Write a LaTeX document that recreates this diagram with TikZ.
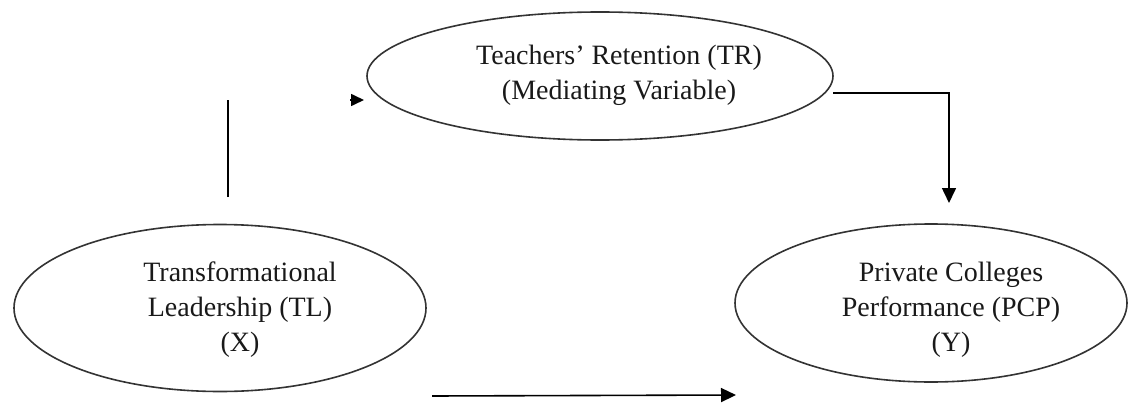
\documentclass[tikz,border=0pt]{standalone}
\usepackage{fontspec}
\setmainfont{Liberation Serif}
\usetikzlibrary{shapes.geometric,arrows.meta}
\begin{document}
\begin{tikzpicture}[x=1pt,y=-1pt,
  varbox/.style={ellipse,draw=black!80,line width=1.6pt,inner sep=0pt},
  vartext/.style={align=center,inner sep=0pt,text=black!90,
    font=\fontsize{28}{35}\selectfont},
  link/.style={draw=black,line width=1.6pt},
  head/.style={-{Triangle[length=15pt,width=14pt]}},
  smallhead/.style={-{Triangle[length=13pt,width=12pt]}}]
\useasboundingbox (0,0) rectangle (1129,404);

% the three variables
\node[varbox,minimum width=466pt,minimum height=128pt] (tr) at (600,76) {};
\node[varbox,minimum width=412pt,minimum height=167pt] (tl) at (220,308) {};
\node[varbox,minimum width=392pt,minimum height=158pt] (pcp) at (931,303) {};

% their labels, set a little right of each centre
\node[vartext] (trtext) at (619,75)
  {Teachers' Retention (TR)\\(Mediating Variable)};
\node[vartext] (tltext) at (240,310)
  {Transformational\\Leadership (TL)\\(X)};
\node[vartext] (pcptext) at (951,310)
  {Private Colleges\\Performance (PCP)\\(Y)};

% connector end points
\coordinate (upA) at (228,197);
\coordinate (upB) at (228,100);
\coordinate (tipA) at (350,100);
\coordinate (tipB) at (364,100);
\coordinate (trOut) at (833,93);
\coordinate (bend) at (949,93);
\coordinate (pcpIn) at (949,203);
\coordinate (botA) at (432,396);
\coordinate (botB) at (736,395);

% path from X up towards the mediator
\draw[link] (upA) -- (upB);
\draw[link,smallhead] (tipA) -- (tipB);
% mediator down to Y
\draw[link,head] (trOut) -- (bend) -- (pcpIn);
% direct path X to Y
\draw[link,head] (botA) -- (botB);
\end{tikzpicture}
\end{document}
